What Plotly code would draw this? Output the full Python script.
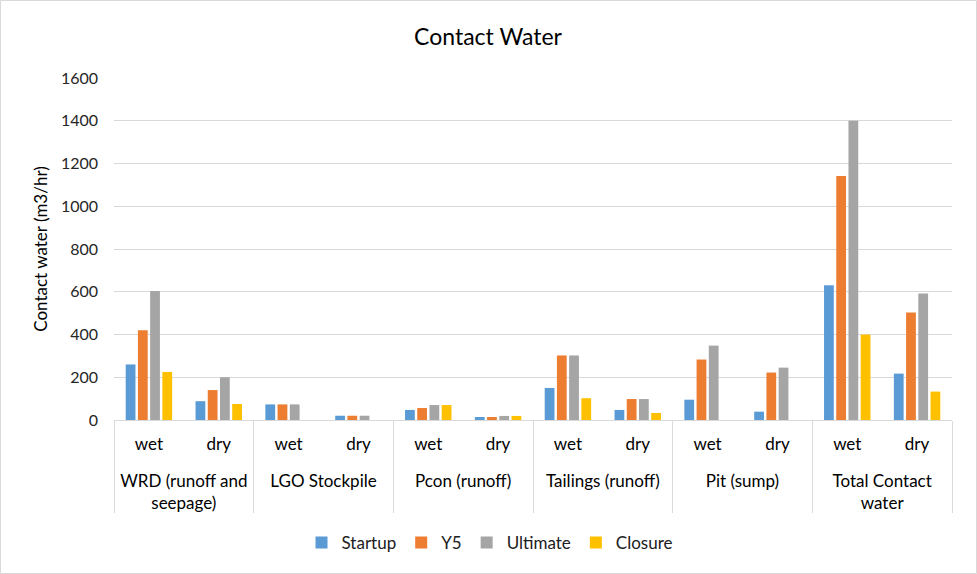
import plotly.graph_objects as go

groups = ["WRD (runoff and<br>seepage)", "LGO Stockpile", "Pcon (runoff)",
          "Tailings (runoff)", "Pit (sump)", "Total Contact<br>water"]
seasons = ["wet", "dry"]

startup = [260, 88, 73, 20, 47, 14, 150, 47, 95, 39, 630, 217]
y5 = [420, 140, 73, 20, 56, 14, 302, 98, 283, 222, 1141, 503]
ultimate = [604, 200, 73, 20, 70, 19, 302, 98, 348, 245, 1400, 592]
closure = [225, 75, None, None, 70, 19, 102, 33, None, None, 400, 133]

series = [("Startup", startup, "#5B9BD5"), ("Y5", y5, "#ED7D31"),
          ("Ultimate", ultimate, "#A5A5A5"), ("Closure", closure, "#FFC000")]

# leading line break pushes the group labels down a row, as in the reference
outer = ["<br>" + g for g in groups for _ in seasons]
inner = [s for _ in groups for s in seasons]

fig = go.Figure()
for name, vals, col in series:
    fig.add_trace(go.Bar(x=[outer, inner], y=vals, name=name, marker_color=col,
                         marker_line_width=0))

W, H = 977, 574
L, R, T, B = 114, 25, 78, 154
pw, ph = W - L - R, H - T - B

fig.update_layout(
    width=W, height=H,
    margin=dict(l=L, r=R, t=T, b=B, autoexpand=False),
    paper_bgcolor="white", plot_bgcolor="white",
    font=dict(family="Lato, Carlito, sans-serif", size=16, color="#404040"),
    title=dict(text="Contact Water", x=488 / W, xanchor="center",
               y=1 - 37 / H, yanchor="middle",
               font=dict(size=23, color="#000000")),
    barmode="group", bargap=0.3, bargroupgap=0.2,
    legend=dict(orientation="h", x=(490 - L) / pw, xanchor="center",
                y=(420 - 543) / ph, yanchor="middle",
                font=dict(size=17, color="#202020"), itemwidth=30,
                traceorder="normal", tracegroupgap=0),
    showlegend=True,
)
fig.update_yaxes(range=[0, 1600], dtick=200, showgrid=True, gridcolor="#D9D9D9",
                 gridwidth=1.3, zeroline=False, showline=False, ticks="",
                 automargin=False, ticklabelstandoff=15,
                 tickfont=dict(size=16, color="#262626"),
                 title=dict(text="Contact water (m3/hr)", font=dict(size=17, color="#000000"),
                            standoff=8))
fig.update_xaxes(type="multicategory", showline=True, linecolor="#D9D9D9", linewidth=1.3,
                 showdividers=True, dividercolor="#D9D9D9", dividerwidth=1.3,
                 ticks="", ticklabelstandoff=8,
                 automargin=False,
                 tickfont=dict(size=17, color="#000000"), showgrid=False)

fig.add_shape(type="rect", xref="paper", yref="paper",
              x0=(0.5 - L) / pw, x1=(W - 0.5 - L) / pw,
              y0=-(B - 0.5) / ph, y1=1 + (T - 0.5) / ph,
              line=dict(color="#D9D9D9", width=1), fillcolor="rgba(0,0,0,0)")

fig.write_html("out.html", config={"displayModeBar": False},
               post_script="document.body.style.margin='0';document.body.style.overflow='hidden';")
